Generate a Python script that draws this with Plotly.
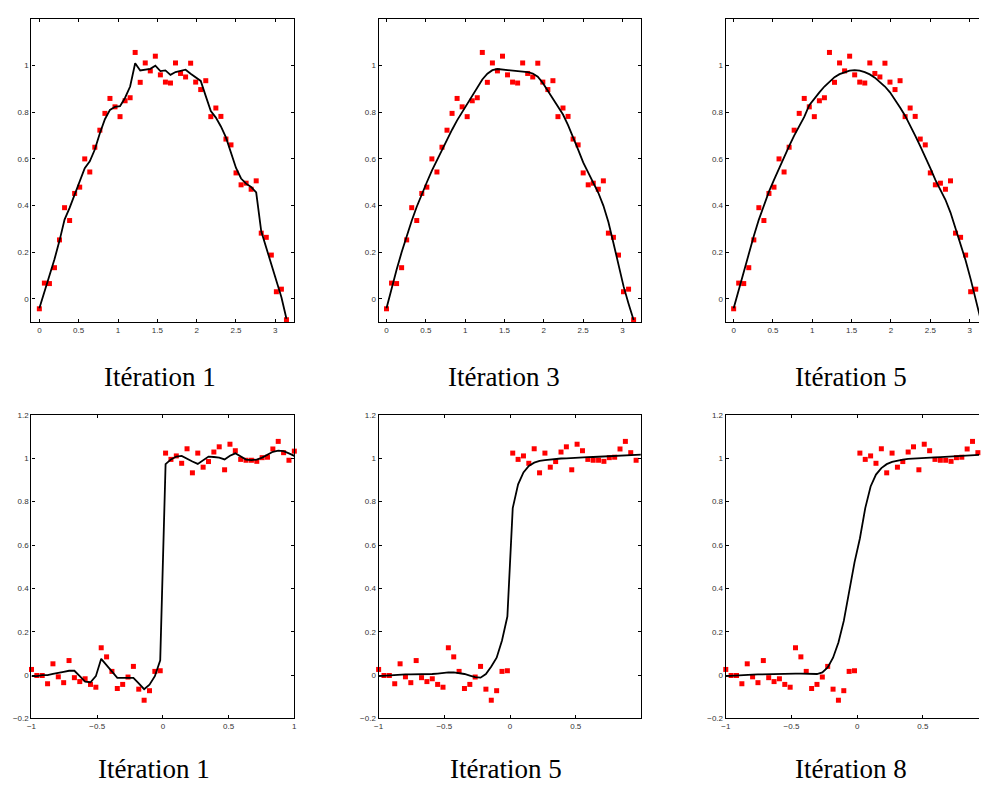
import numpy as np
import plotly.graph_objects as go

# sine data (top row)
x_sin = np.linspace(0, np.pi, 50)
y_sin = [-0.042, 0.068, 0.066, 0.134, 0.253, 0.391, 0.336, 0.452, 0.479, 0.600,
         0.544, 0.650, 0.723, 0.795, 0.859, 0.823, 0.781, 0.849, 0.862, 1.056,
         0.928, 1.011, 0.977, 1.040, 0.960, 0.929, 0.925, 1.011, 0.966, 0.951,
         1.010, 0.929, 0.897, 0.935, 0.781, 0.818, 0.782, 0.685, 0.660, 0.540,
         0.489, 0.496, 0.470, 0.506, 0.282, 0.264, 0.188, 0.031, 0.042, -0.089]
fit_sin_1 = [-0.04, 0.03, 0.09, 0.17, 0.25, 0.34, 0.39, 0.445, 0.50, 0.56,
             0.59, 0.64, 0.71, 0.77, 0.81, 0.823, 0.826, 0.862, 0.91, 1.01,
             0.979, 0.982, 0.986, 0.999, 0.976, 0.979, 0.960, 0.972, 0.977, 0.982,
             0.965, 0.951, 0.934, 0.869, 0.805, 0.777, 0.739, 0.692, 0.629, 0.561,
             0.516, 0.494, 0.480, 0.456, 0.290, 0.219, 0.148, 0.078, 0.007, -0.085]
fit_sin_3 = [-0.04, 0.045, 0.125, 0.20, 0.27, 0.335, 0.395, 0.45, 0.50, 0.55,
             0.595, 0.64, 0.685, 0.725, 0.765, 0.80, 0.835, 0.87, 0.905, 0.94,
             0.965, 0.98, 0.985, 0.983, 0.981, 0.979, 0.977, 0.975, 0.972, 0.966,
             0.952, 0.925, 0.89, 0.855, 0.825, 0.79, 0.745, 0.695, 0.64, 0.585,
             0.54, 0.50, 0.455, 0.40, 0.33, 0.24, 0.15, 0.055, -0.02, -0.09]
fit_sin_5 = [-0.04, 0.04, 0.12, 0.20, 0.27, 0.34, 0.40, 0.46, 0.51, 0.56,
             0.61, 0.655, 0.70, 0.74, 0.78, 0.83, 0.86, 0.885, 0.91, 0.93,
             0.95, 0.963, 0.972, 0.978, 0.98, 0.978, 0.972, 0.962, 0.948, 0.93,
             0.91, 0.885, 0.855, 0.82, 0.785, 0.745, 0.70, 0.655, 0.61, 0.56,
             0.51, 0.465, 0.425, 0.37, 0.305, 0.235, 0.165, 0.085, 0.0, -0.09]

# step data (bottom row)
x_step = np.linspace(-1, 1, 50)
y_step = [0.026, -0.002, -0.002, -0.040, 0.052, -0.008, -0.035, 0.067, -0.012, -0.030,
          -0.017, -0.043, -0.056, 0.126, 0.084, 0.017, -0.062, -0.043, -0.009, 0.040,
          -0.065, -0.116, -0.072, 0.017, 0.020, 1.024, 0.995, 1.011, 0.977, 1.044,
          0.933, 1.024, 0.959, 0.985, 1.029, 1.053, 0.947, 1.065, 1.035, 0.995,
          0.991, 0.991, 0.986, 1.003, 1.005, 1.043, 1.078, 1.026, 0.991, 1.033]
fit_step_1 = [-0.005, -0.005, 0.0, 0.0, 0.006, 0.012, 0.015, 0.02, 0.02, -0.005,
              -0.03, -0.033, -0.005, 0.075, 0.045, 0.017, -0.013, -0.013, -0.013, -0.013,
              -0.038, -0.065, -0.044, -0.005, 0.068, 0.973, 0.995, 1.008, 1.011, 0.997,
              0.985, 0.974, 0.992, 1.008, 1.006, 1.003, 0.995, 1.012, 1.023, 1.008,
              0.994, 0.992, 0.994, 1.003, 1.015, 1.030, 1.035, 1.033, 1.023, 1.011]
fit_step_5 = [-0.005, -0.003, -0.001, 0.001, 0.002, 0.003, 0.003, 0.003, 0.003, 0.004,
              0.005, 0.007, 0.010, 0.012, 0.012, 0.010, 0.005, -0.002, -0.009, -0.012,
              0.005, 0.04, 0.08, 0.16, 0.27, 0.77, 0.88, 0.935, 0.965, 0.98,
              0.988, 0.992, 0.995, 0.997, 0.999, 1.0, 1.002, 1.003, 1.004, 1.005,
              1.006, 1.007, 1.008, 1.01, 1.011, 1.013, 1.014, 1.015, 1.016, 1.017]
fit_step_8 = [-0.005, -0.003, -0.001, 0.0, 0.001, 0.002, 0.003, 0.004, 0.004, 0.005,
              0.005, 0.006, 0.006, 0.007, 0.007, 0.006, 0.005, 0.005, 0.012, 0.035,
              0.08, 0.15, 0.25, 0.38, 0.52, 0.63, 0.77, 0.87, 0.925, 0.955,
              0.973, 0.983, 0.99, 0.994, 0.997, 0.999, 1.0, 1.002, 1.003, 1.004,
              1.005, 1.006, 1.007, 1.009, 1.01, 1.012, 1.013, 1.015, 1.016, 1.018]

titles = ["Itération 1", "Itération 3", "Itération 5",
          "Itération 1", "Itération 5", "Itération 8"]

W, H = 982, 787
cols = [(26.7, 291.7), (376.7, 641.0), (726.7, 982.0)]
rows = [(15, 322), (415.7, 722.7)]
title_x = [156, 503, 853, 150, 505, 853]

panels = [
    (x_sin, y_sin, fit_sin_1), (x_sin, y_sin, fit_sin_3), (x_sin, y_sin, fit_sin_5),
    (x_step, y_step, fit_step_1), (x_step, y_step, fit_step_5), (x_step, y_step, fit_step_8),
]

tick_font = dict(family="Liberation Sans, Arial", size=8, color="#333")

fig = go.Figure()
layout = {}
for k, (xs, ys, fit) in enumerate(panels):
    r, c = divmod(k, 3)
    n = "" if k == 0 else str(k + 1)
    fig.add_trace(go.Scatter(x=xs, y=ys, mode="markers", xaxis="x" + n, yaxis="y" + n,
                             marker=dict(symbol="square", size=5, color="#ff0000"),
                             cliponaxis=False, showlegend=False))
    fig.add_trace(go.Scatter(x=xs, y=fit, mode="lines", xaxis="x" + n, yaxis="y" + n,
                             line=dict(color="black", width=1.8), showlegend=False))

    x0, x1 = cols[c]
    top, bot = rows[r]
    if r == 0:
        scale = (cols[0][1] - cols[0][0]) / (np.pi + 0.2)
        xrange = [-0.1, -0.1 + (x1 - x0) / scale]
        xticks = [0, 0.5, 1, 1.5, 2, 2.5, 3]
        xtext = ["0", "0.5", "1", "1.5", "2", "2.5", "3"]
        yrange = [-0.1, 1.2]
        yticks = [0, 0.2, 0.4, 0.6, 0.8, 1]
        ytext = ["0", "0.2", "0.4", "0.6", "0.8", "1"]
    else:
        scale = (cols[0][1] - cols[0][0]) / 2
        xrange = [-1, -1 + (x1 - x0) / scale]
        xticks = [-1, -0.5, 0, 0.5, 1]
        xtext = ["\u22121", "\u22120.5", "0", "0.5", "1"]
        yrange = [-0.2, 1.2]
        yticks = [-0.2, 0, 0.2, 0.4, 0.6, 0.8, 1, 1.2]
        ytext = ["\u22120.2", "0", "0.2", "0.4", "0.6", "0.8", "1", "1.2"]

    layout["xaxis" + n] = dict(
        domain=[x0 / W, x1 / W], range=xrange, anchor="y" + n,
        tickvals=xticks, ticktext=xtext, ticks="inside", ticklen=3, tickcolor="black",
        showline=True, linecolor="black", linewidth=1.3, mirror="ticks",
        showgrid=False, zeroline=False, tickfont=tick_font,
    )
    layout["yaxis" + n] = dict(
        domain=[1 - bot / H, 1 - top / H], range=yrange, anchor="x" + n,
        tickvals=yticks, ticktext=ytext, ticks="inside", ticklen=3, tickcolor="black",
        showline=True, linecolor="black", linewidth=1.3,
        mirror="ticks" if c < 2 else False,
        showgrid=False, zeroline=False, tickfont=tick_font,
    )

title_font = dict(family="Liberation Serif, Times New Roman, serif", size=27, color="black")
annotations = []
for k, t in enumerate(titles):
    if k < 3:
        annotations.append(dict(text=t, x=title_x[k] / W, y=1 - 377 / H, xref="paper", yref="paper",
                                xanchor="center", yanchor="middle", showarrow=False, font=title_font))
    else:
        annotations.append(dict(text=t, x=title_x[k] / W, y=0, xref="paper", yref="paper",
                                xanchor="center", yanchor="bottom", yshift=-4, showarrow=False,
                                font=title_font))

fig.update_layout(
    width=W, height=H,
    margin=dict(l=0, r=0, t=0, b=0),
    paper_bgcolor="white", plot_bgcolor="white",
    annotations=annotations,
    **layout,
)

# drop the browser's default body margin so the figure fills the window exactly
fig.write_html("out.html", config={"displayModeBar": False},
               post_script="document.body.style.margin = '0';")
